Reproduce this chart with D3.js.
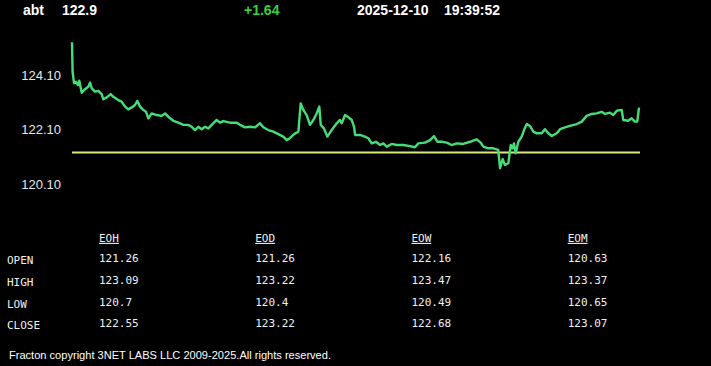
<!DOCTYPE html>
<html>
<head>
<meta charset="utf-8">
<script src="https://cdn.jsdelivr.net/npm/d3@7"></script>
<style>
  body { margin: 0; background: #000; }
  svg { display: block; background: #000; }
</style>
</head>
<body>
<div id="chart"></div>
<script>
// Quote header
var symbol = "abt";
var lastPrice = "122.9";
var change = "+1.64";
var quoteDate = "2025-12-10";
var quoteTime = "19:39:52";

// Intraday series: minutes since open, price
var minutes = [0, 0.4, 1.4, 2.8, 4.1, 5.0, 6.7, 8.9, 11.2, 12.4, 13.6, 15.8, 18.1, 20.4, 21.5, 23.9, 26.6, 28.4, 31.8, 34.2,
  36.5, 38.7, 41.1, 43.3, 44.9, 46.8, 49.0, 50.9, 52.5, 54.8, 58.3, 61.7, 64.0, 66.2, 69.7, 73.1, 76.6, 80.0, 82.3, 84.6,
  86.9, 89.2, 91.5, 93.8, 96.1, 99.5, 101.8, 104.1, 108.7, 113.3, 115.6, 119.0, 122.4, 125.9, 129.3, 131.6, 135.0, 138.5, 141.9, 145.3,
  147.7, 149.9, 152.7, 155.7, 157.3, 159.1, 161.4, 163.7, 166.0, 168.3, 170.1, 171.1, 173.3, 175.6, 178.6, 182.1, 184.3, 185.5, 187.8, 190.1,
  192.4, 194.0, 194.7, 198.1, 201.5, 203.8, 206.1, 209.1, 211.9, 214.1, 216.5, 219.9, 223.3, 227.9, 232.5, 235.9, 238.2, 242.8, 246.3, 249.0,
  251.3, 254.3, 257.7, 261.2, 264.6, 269.1, 273.8, 278.4, 281.1, 282.9, 286.3, 289.8, 293.2, 294.4, 296.2, 297.8, 300.1, 301.8, 303.1, 304.0,
  305.2, 307.0, 309.3, 310.9, 312.8, 315.0, 317.3, 319.6, 323.1, 325.3, 327.6, 330.0, 333.4, 335.7, 339.1, 342.5, 347.2, 350.6, 354.0, 357.5,
  360.9, 364.3, 366.6, 370.0, 372.3, 374.7, 378.1, 379.2, 382.6, 384.9, 387.2, 388.8, 390];
var prices = [125.30, 124.22, 123.80, 123.85, 123.73, 123.89, 123.45, 123.58, 123.67, 123.82, 123.61, 123.49, 123.52, 123.40, 123.21, 123.28, 123.40, 123.30, 123.18, 123.12,
  122.94, 122.84, 122.91, 123.00, 123.15, 122.94, 122.82, 122.75, 122.51, 122.69, 122.63, 122.60, 122.69, 122.57, 122.42, 122.35, 122.27, 122.27, 122.20, 122.08,
  122.20, 122.11, 122.20, 122.14, 122.27, 122.45, 122.35, 122.41, 122.35, 122.35, 122.27, 122.18, 122.20, 122.18, 122.33, 122.18, 122.08, 122.02, 121.93, 121.84,
  121.71, 121.78, 121.93, 122.02, 123.06, 122.82, 122.63, 122.27, 122.45, 122.69, 122.94, 122.27, 122.14, 121.84, 122.08, 122.33, 122.45, 122.33, 122.63, 122.55,
  122.45, 122.20, 121.90, 121.90, 121.84, 121.78, 121.59, 121.65, 121.53, 121.59, 121.47, 121.57, 121.53, 121.53, 121.49, 121.45, 121.59, 121.62, 121.71, 121.86,
  121.65, 121.65, 121.62, 121.53, 121.59, 121.57, 121.65, 121.74, 121.62, 121.47, 121.41, 121.41, 121.35, 120.68, 121.01, 120.80, 120.86, 121.53, 121.41, 121.59,
  121.23, 121.65, 121.84, 122.08, 122.30, 122.23, 122.02, 121.96, 121.96, 122.11, 121.96, 121.86, 121.96, 122.11, 122.18, 122.23, 122.30, 122.39, 122.60, 122.67,
  122.69, 122.75, 122.67, 122.72, 122.63, 122.79, 122.82, 122.45, 122.42, 122.51, 122.39, 122.39, 122.90];
var openPrice = 121.26;
var yTicks = [120.10, 122.10, 124.10];

// Summary table
var periods = ["EOH", "EOD", "EOW", "EOM"];
var rowLabels = ["OPEN", "HIGH", "LOW", "CLOSE"];
var eohValues = ["121.26", "123.09", "120.7", "122.55"];
var eodValues = ["121.26", "123.22", "120.4", "123.22"];
var eowValues = ["122.16", "123.47", "120.49", "122.68"];
var eomValues = ["120.63", "123.37", "120.65", "123.07"];
var footer = "Fracton copyright 3NET LABS LLC 2009-2025.All rights reserved.";

var svgWidth = 711;
var svgHeight = 366;

var svg = d3.select("#chart")
  .append("svg")
  .attr("width", svgWidth)
  .attr("height", svgHeight);

var sans = "'Liberation Sans', Arial, sans-serif";
var mono = "'DejaVu Sans Mono', 'Liberation Mono', monospace";

// header line
var header = svg.append("g")
  .style("font-family", sans)
  .style("font-weight", "bold")
  .style("font-size", "14px");
header.append("text").attr("x", 23).attr("y", 15).attr("fill", "#fff").text(symbol);
header.append("text").attr("x", 62).attr("y", 15).attr("fill", "#fff").text(lastPrice);
header.append("text").attr("x", 244).attr("y", 15).attr("fill", "#3ccf3c").text(change);
header.append("text").attr("x", 357).attr("y", 15).attr("fill", "#fff").text(quoteDate);
header.append("text").attr("x", 444).attr("y", 15).attr("fill", "#fff").text(quoteTime);

// scales
var x = d3.scaleLinear().domain([0, 390]).range([72, 639]);
var y = d3.scaleLinear().domain([120.10, 124.10]).range([184, 75]);

var yAxis = d3.axisLeft(y)
  .tickValues(yTicks)
  .tickFormat(d3.format(".2f"))
  .tickSize(0)
  .tickPadding(0);

var axisG = svg.append("g")
  .attr("transform", "translate(61,0)")
  .call(yAxis);
axisG.select(".domain").remove();
axisG.selectAll("text")
  .attr("fill", "#e8e8e8")
  .style("font-family", sans)
  .style("font-size", "13px");

// open price reference line
svg.append("line")
  .attr("x1", x(0))
  .attr("x2", x(390) + 1)
  .attr("y1", y(openPrice))
  .attr("y2", y(openPrice))
  .attr("stroke", "#dbe87a")
  .attr("stroke-width", 2);

// price line
var series = minutes.map(function(m, i) { return { t: m, p: prices[i] }; });
var line = d3.line()
  .x(function(d) { return x(d.t); })
  .y(function(d) { return y(d.p); });

svg.append("path")
  .datum(series)
  .attr("d", line)
  .attr("fill", "none")
  .attr("stroke", "#45dd78")
  .attr("stroke-width", 2.4)
  .attr("stroke-linejoin", "round");

// table
var colX = d3.scalePoint().domain(periods).range([99, 567.7]);
var rowY = d3.scalePoint().domain(["head"].concat(rowLabels)).range([238, 324.5]);
var columns = [eohValues, eodValues, eowValues, eomValues];

var table = svg.append("g")
  .style("font-family", mono)
  .style("font-size", "11px")
  .attr("fill", "#f0f0f0");

table.selectAll("text.head")
  .data(periods)
  .enter()
  .append("text")
  .attr("class", "head")
  .attr("x", function(d) { return colX(d); })
  .attr("y", rowY("head"))
  .attr("dy", "0.35em")
  .style("text-decoration", "underline")
  .text(function(d) { return d; });

table.selectAll("text.label")
  .data(rowLabels)
  .enter()
  .append("text")
  .attr("class", "label")
  .attr("x", 7)
  .attr("y", function(d) { return rowY(d) + 1; })
  .attr("dy", "0.35em")
  .text(function(d) { return d; });

columns.forEach(function(vals, c) {
  table.selectAll("text.c" + c)
    .data(vals)
    .enter()
    .append("text")
    .attr("class", "c" + c)
    .attr("x", colX(periods[c]))
    .attr("y", function(d, i) { return rowY(rowLabels[i]) - 1; })
    .attr("dy", "0.35em")
    .text(function(d) { return d; });
});

// footer
svg.append("text")
  .attr("x", 9)
  .attr("y", 359)
  .attr("fill", "#fff")
  .style("font-family", sans)
  .style("font-size", "11px")
  .attr("textLength", 322)
  .attr("lengthAdjust", "spacingAndGlyphs")
  .text(footer);
</script>
</body>
</html>
